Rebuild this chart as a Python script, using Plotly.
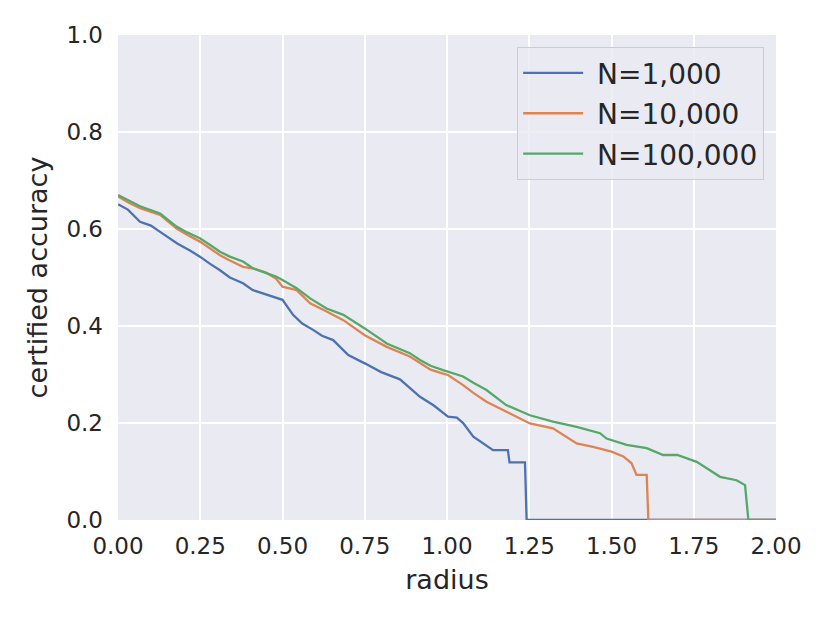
import plotly.graph_objects as go

# radius / certified accuracy
radius_1k = [0, 0.03, 0.067, 0.1, 0.128, 0.18, 0.22, 0.249, 0.28, 0.31, 0.34, 0.38, 0.41,
             0.45, 0.5, 0.532, 0.56, 0.593, 0.62, 0.654, 0.7, 0.75, 0.8, 0.857, 0.918,
             0.96, 1.003, 1.03, 1.049, 1.08, 1.11, 1.14, 1.185, 1.19, 1.237, 1.242, 2.0]
acc_1k = [0.651, 0.64, 0.615, 0.607, 0.594, 0.57, 0.555, 0.543, 0.528, 0.515, 0.5, 0.488,
          0.474, 0.465, 0.454, 0.423, 0.405, 0.392, 0.38, 0.371, 0.340, 0.323, 0.305,
          0.29, 0.254, 0.236, 0.213, 0.211, 0.2, 0.172, 0.158, 0.144, 0.144, 0.119,
          0.119, 0.0, 0.0]

radius_10k = [0, 0.03, 0.067, 0.128, 0.178, 0.21, 0.249, 0.28, 0.31, 0.34, 0.38, 0.41,
              0.45, 0.48, 0.5, 0.543, 0.584, 0.634, 0.685, 0.75, 0.817, 0.887, 0.918,
              0.95, 0.988, 1.003, 1.049, 1.08, 1.12, 1.18, 1.252, 1.322, 1.353, 1.394,
              1.444, 1.50, 1.536, 1.561, 1.576, 1.607, 1.612, 2.0]
acc_10k = [0.667, 0.655, 0.643, 0.629, 0.601, 0.588, 0.574, 0.56, 0.546, 0.535, 0.522,
           0.519, 0.51, 0.498, 0.481, 0.474, 0.447, 0.430, 0.412, 0.381, 0.357, 0.337,
           0.323, 0.31, 0.302, 0.299, 0.278, 0.262, 0.244, 0.223, 0.199, 0.189, 0.175,
           0.158, 0.151, 0.141, 0.131, 0.117, 0.093, 0.093, 0.0, 0.0]

radius_100k = [0, 0.03, 0.067, 0.128, 0.178, 0.21, 0.249, 0.28, 0.31, 0.34, 0.38, 0.41,
               0.45, 0.48, 0.5, 0.543, 0.584, 0.634, 0.685, 0.75, 0.817, 0.887, 0.918,
               0.95, 0.988, 1.003, 1.049, 1.08, 1.12, 1.18, 1.252, 1.322, 1.394, 1.465,
               1.485, 1.546, 1.607, 1.657, 1.70, 1.759, 1.80, 1.83, 1.88, 1.906, 1.916, 2.0]
acc_100k = [0.670, 0.66, 0.647, 0.632, 0.605, 0.593, 0.581, 0.567, 0.553, 0.543, 0.533,
            0.519, 0.51, 0.502, 0.495, 0.478, 0.457, 0.436, 0.423, 0.395, 0.364, 0.344,
            0.330, 0.318, 0.309, 0.306, 0.296, 0.283, 0.268, 0.237, 0.216, 0.203, 0.192,
            0.179, 0.168, 0.155, 0.148, 0.134, 0.134, 0.120, 0.103, 0.089, 0.082, 0.072,
            0.0, 0.0]

series = [
    ("N=1,000", radius_1k, acc_1k, "#4C72B0"),
    ("N=10,000", radius_10k, acc_10k, "#DD8452"),
    ("N=100,000", radius_100k, acc_100k, "#55A868"),
]

fig = go.Figure()
for name, xs, ys, color in series:
    fig.add_trace(go.Scatter(x=xs, y=ys, mode="lines", name="\u00a0" + name,
                             legendgroup=name, line=dict(color=color, width=2.3)))

axis_common = dict(showgrid=True, gridcolor="white", gridwidth=1.5, zeroline=False,
                   showline=False, ticks="", tickfont=dict(size=23, color="#262626"),
                   title_font=dict(size=27, color="#262626"))

# page body adds 8px, so margins are shifted by that
fig.update_layout(
    width=830, height=623,
    margin=dict(l=110, r=62, t=27, b=111),
    paper_bgcolor="white",
    plot_bgcolor="#EAEAF2",
    font=dict(family="DejaVu Sans", color="#262626"),
    showlegend=True,
    legend=dict(x=0.982, y=0.975, xanchor="right", yanchor="top",
                bgcolor="rgba(234,234,242,0.8)", bordercolor="#CCCCCC", borderwidth=1,
                font=dict(size=28, color="#262626"), tracegroupgap=1,
                traceorder="grouped", itemwidth=60),
)
fig.update_xaxes(range=[0, 2], tick0=0, dtick=0.25, tickformat=".2f",
                 ticklabelstandoff=10,
                 title_text="radius", title_standoff=12, **axis_common)
fig.update_yaxes(range=[0, 1], tick0=0, dtick=0.2, tickformat=".1f",
                 ticklabelstandoff=14,
                 title_text="certified accuracy", title_standoff=10, **axis_common)

fig.write_html("out.html")
